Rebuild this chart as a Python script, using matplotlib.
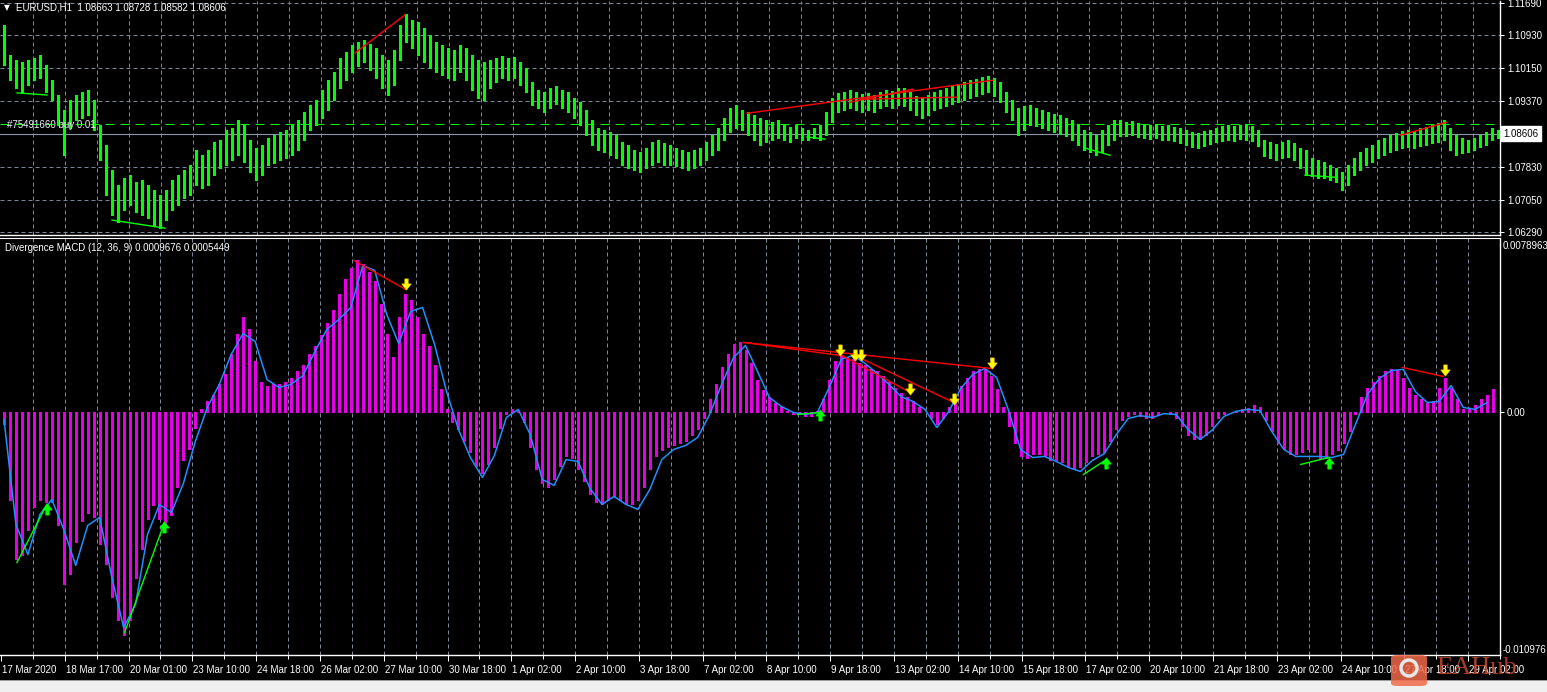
import numpy as np
import matplotlib
matplotlib.use('Agg')
import matplotlib.pyplot as plt
from matplotlib.path import Path
from matplotlib.patches import Rectangle, FancyBboxPatch, Ellipse
import matplotlib.transforms as mtrans

W, H = 1547, 692
plt.rcParams['font.family'] = ['Liberation Sans', 'DejaVu Sans']

# ---------------- data ----------------
symbol_title = "EURUSD,H1  1.08663 1.08728 1.08582 1.08606"
macd_title = "Divergence MACD (12, 36, 9) 0.0009676 0.0005449"
order_label = "#75491660 buy 0.01"

# one bar every 3 hours (bar index -> hour = 3*i + 1)
bar_high = [
    1.1117, 1.1046, 1.1034, 1.1030, 1.1034, 1.1039, 1.1046, 1.1023, 1.0987, 1.0952,
    1.0916, 1.0940, 1.0952, 1.0959, 1.0964, 1.0940, 1.0881, 1.0834, 1.0775, 1.0739,
    1.0756, 1.0763, 1.0746, 1.0751, 1.0739, 1.0728, 1.0716, 1.0728, 1.0751, 1.0763,
    1.0775, 1.0787, 1.0822, 1.0810, 1.0822, 1.0841, 1.0846, 1.0869, 1.0874, 1.0893,
    1.0881, 1.0846, 1.0827, 1.0834, 1.0850, 1.0857, 1.0864, 1.0869, 1.0881, 1.0893,
    1.0912, 1.0928, 1.0940, 1.0964, 1.0987, 1.1006, 1.1039, 1.1053, 1.1070, 1.1077,
    1.1082, 1.1072, 1.1063, 1.1046, 1.1034, 1.1058, 1.1117, 1.1143, 1.1129, 1.1124,
    1.1110, 1.1093, 1.1077, 1.1070, 1.1063, 1.1058, 1.1070, 1.1063, 1.1046, 1.1034,
    1.1030, 1.1034, 1.1039, 1.1044, 1.1039, 1.1041, 1.1030, 1.1016, 1.0982, 1.0964,
    1.0959, 1.0968, 1.0973, 1.0964, 1.0959, 1.0945, 1.0935, 1.0916, 1.0893, 1.0874,
    1.0869, 1.0864, 1.0857, 1.0841, 1.0834, 1.0822, 1.0817, 1.0827, 1.0841, 1.0846,
    1.0839, 1.0834, 1.0827, 1.0822, 1.0817, 1.0822, 1.0827, 1.0841, 1.0857, 1.0874,
    1.0898, 1.0921, 1.0928, 1.0916, 1.0912, 1.0905, 1.0898, 1.0893, 1.0888, 1.0893,
    1.0881, 1.0876, 1.0881, 1.0874, 1.0869, 1.0874, 1.0881, 1.0912, 1.0945, 1.0957,
    1.0959, 1.0964, 1.0959, 1.0954, 1.0957, 1.0952, 1.0959, 1.0964, 1.0961, 1.0968,
    1.0968, 1.0959, 1.0949, 1.0945, 1.0952, 1.0959, 1.0964, 1.0968, 1.0975, 1.0978,
    1.0982, 1.0987, 1.0990, 1.0994, 1.0997, 1.0992, 1.0982, 1.0959, 1.0940, 1.0921,
    1.0926, 1.0928, 1.0921, 1.0916, 1.0912, 1.0907, 1.0905, 1.0898, 1.0893, 1.0883,
    1.0869, 1.0864, 1.0857, 1.0869, 1.0881, 1.0893, 1.0893, 1.0888, 1.0890, 1.0886,
    1.0883, 1.0881, 1.0883, 1.0879, 1.0881, 1.0876, 1.0874, 1.0869, 1.0864, 1.0862,
    1.0867, 1.0869, 1.0874, 1.0879, 1.0881, 1.0879, 1.0881, 1.0883, 1.0879, 1.0869,
    1.0846, 1.0841, 1.0836, 1.0841, 1.0846, 1.0839, 1.0827, 1.0822, 1.0803, 1.0798,
    1.0794, 1.0787, 1.0780, 1.0770, 1.0787, 1.0803, 1.0817, 1.0827, 1.0834, 1.0846,
    1.0850, 1.0857, 1.0862, 1.0867, 1.0869, 1.0867, 1.0874, 1.0876, 1.0881, 1.0886,
    1.0893, 1.0874, 1.0857, 1.0850, 1.0846, 1.0850, 1.0857, 1.0864, 1.0874, 1.0869,
]
bar_low = [
    1.1023, 1.0987, 1.0968, 1.0959, 1.0975, 1.0987, 1.0992, 1.0959, 1.0940, 1.0881,
    1.0810, 1.0874, 1.0893, 1.0898, 1.0905, 1.0869, 1.0798, 1.0716, 1.0669, 1.0652,
    1.0680, 1.0692, 1.0676, 1.0669, 1.0662, 1.0645, 1.0638, 1.0657, 1.0680, 1.0692,
    1.0709, 1.0716, 1.0739, 1.0732, 1.0739, 1.0763, 1.0780, 1.0787, 1.0798, 1.0810,
    1.0794, 1.0770, 1.0751, 1.0763, 1.0787, 1.0791, 1.0798, 1.0803, 1.0810, 1.0822,
    1.0846, 1.0869, 1.0881, 1.0898, 1.0916, 1.0940, 1.0968, 1.0987, 1.1006, 1.1020,
    1.1030, 1.1011, 1.0992, 1.0968, 1.0952, 1.0975, 1.1034, 1.1077, 1.1063, 1.1046,
    1.1030, 1.1016, 1.1006, 1.0999, 1.0992, 1.0987, 1.1006, 1.0987, 1.0964, 1.0945,
    1.0940, 1.0968, 1.0982, 1.0992, 1.0987, 1.0992, 1.0975, 1.0959, 1.0928, 1.0921,
    1.0912, 1.0921, 1.0931, 1.0921, 1.0912, 1.0898, 1.0881, 1.0857, 1.0834, 1.0822,
    1.0817, 1.0810, 1.0803, 1.0787, 1.0780, 1.0775, 1.0770, 1.0780, 1.0787, 1.0794,
    1.0787, 1.0787, 1.0784, 1.0780, 1.0775, 1.0780, 1.0787, 1.0798, 1.0810, 1.0822,
    1.0846, 1.0864, 1.0874, 1.0869, 1.0857, 1.0846, 1.0834, 1.0841, 1.0846, 1.0850,
    1.0846, 1.0841, 1.0850, 1.0846, 1.0846, 1.0850, 1.0846, 1.0857, 1.0888, 1.0912,
    1.0916, 1.0921, 1.0916, 1.0912, 1.0916, 1.0912, 1.0921, 1.0926, 1.0921, 1.0928,
    1.0926, 1.0916, 1.0905, 1.0898, 1.0905, 1.0916, 1.0921, 1.0926, 1.0931, 1.0935,
    1.0940, 1.0945, 1.0949, 1.0954, 1.0959, 1.0949, 1.0935, 1.0912, 1.0893, 1.0857,
    1.0869, 1.0881, 1.0879, 1.0874, 1.0869, 1.0864, 1.0860, 1.0855, 1.0846, 1.0834,
    1.0822, 1.0817, 1.0810, 1.0817, 1.0834, 1.0846, 1.0855, 1.0855, 1.0857, 1.0853,
    1.0850, 1.0848, 1.0850, 1.0846, 1.0846, 1.0843, 1.0839, 1.0834, 1.0829, 1.0827,
    1.0831, 1.0836, 1.0841, 1.0843, 1.0846, 1.0843, 1.0848, 1.0846, 1.0843, 1.0831,
    1.0808, 1.0803, 1.0798, 1.0803, 1.0805, 1.0798, 1.0780, 1.0763, 1.0761, 1.0756,
    1.0756, 1.0751, 1.0746, 1.0728, 1.0739, 1.0763, 1.0775, 1.0787, 1.0794, 1.0803,
    1.0810, 1.0817, 1.0822, 1.0827, 1.0829, 1.0827, 1.0831, 1.0834, 1.0839, 1.0841,
    1.0846, 1.0822, 1.0810, 1.0815, 1.0817, 1.0822, 1.0829, 1.0834, 1.0846, 1.0850,
]
macd_main = [
    -0.00054, -0.00394, -0.00665, -0.00643, -0.00530, -0.00430, -0.00394, -0.00403, -0.00403, -0.00507,
    -0.00778, -0.00733, -0.00588, -0.00493, -0.00457, -0.00475, -0.00597, -0.00688, -0.00837, -0.00937,
    -0.01009, -0.00937, -0.00747, -0.00620, -0.00484, -0.00421, -0.00484, -0.00520, -0.00462, -0.00339,
    -0.00213, -0.00167, -0.00068, 0.00014, 0.00050, 0.00077, 0.00127, 0.00172, 0.00263, 0.00353,
    0.00430, 0.00376, 0.00231, 0.00140, 0.00122, 0.00127, 0.00127, 0.00136, 0.00158, 0.00186,
    0.00213, 0.00263, 0.00303, 0.00349, 0.00403, 0.00466, 0.00534, 0.00602, 0.00656, 0.00688,
    0.00670, 0.00638, 0.00593, 0.00489, 0.00353, 0.00249, 0.00430, 0.00534, 0.00511, 0.00434,
    0.00353, 0.00299, 0.00217, 0.00104, 0.00014, -0.00045, -0.00077, -0.00131, -0.00181, -0.00240,
    -0.00276, -0.00235, -0.00154, -0.00068, -0.00005, 0.00014, 0.00005, -0.00045, -0.00158, -0.00258,
    -0.00321, -0.00339, -0.00299, -0.00240, -0.00199, -0.00204, -0.00258, -0.00312, -0.00367, -0.00407,
    -0.00416, -0.00394, -0.00376, -0.00394, -0.00412, -0.00416, -0.00394, -0.00339, -0.00258, -0.00199,
    -0.00172, -0.00158, -0.00145, -0.00140, -0.00127, -0.00104, -0.00077, -0.00023, 0.00059, 0.00127,
    0.00204, 0.00263, 0.00308, 0.00321, 0.00285, 0.00226, 0.00149, 0.00100, 0.00072, 0.00045,
    0.00027, 0.00005, -0.00009, -0.00009, -0.00014, -0.00014, 0.00005, 0.00059, 0.00149, 0.00231,
    0.00258, 0.00253, 0.00240, 0.00226, 0.00213, 0.00195, 0.00186, 0.00167, 0.00140, 0.00113,
    0.00086, 0.00068, 0.00054, 0.00027, 0.00000, -0.00027, -0.00054, -0.00023, 0.00027, 0.00068,
    0.00118, 0.00158, 0.00186, 0.00199, 0.00199, 0.00167, 0.00104, 0.00023, -0.00059, -0.00140,
    -0.00199, -0.00204, -0.00190, -0.00190, -0.00199, -0.00213, -0.00213, -0.00226, -0.00244, -0.00258,
    -0.00249, -0.00222, -0.00199, -0.00190, -0.00177, -0.00131, -0.00077, -0.00036, -0.00018, -0.00009,
    -0.00014, -0.00023, -0.00023, -0.00009, 0.00000, -0.00005, -0.00023, -0.00063, -0.00100, -0.00122,
    -0.00122, -0.00100, -0.00063, -0.00023, -0.00009, 0.00000, 0.00005, 0.00014, 0.00018, 0.00032,
    0.00023, -0.00032, -0.00086, -0.00136, -0.00167, -0.00186, -0.00190, -0.00181, -0.00167, -0.00181,
    -0.00204, -0.00204, -0.00190, -0.00172, -0.00136, -0.00086, -0.00009, 0.00068, 0.00113, 0.00140,
    0.00167, 0.00186, 0.00195, 0.00190, 0.00154, 0.00113, 0.00081, 0.00059, 0.00045, 0.00050,
    0.00113, 0.00158, 0.00113, 0.00059, 0.00014, 0.00014, 0.00036, 0.00059, 0.00081, 0.00104,
]
# signal line, one value every 6 hours (hour = 6*k + 1)
macd_signal = [
    -0.00032, -0.00507, -0.00643, -0.00462, -0.00394, -0.00530, -0.00692, -0.00511, -0.00475, -0.00742,
    -0.00973, -0.00869, -0.00552, -0.00416, -0.00453, -0.00321, -0.00131, 0.00023, 0.00127, 0.00263,
    0.00358, 0.00321, 0.00149, 0.00113, 0.00127, 0.00167, 0.00276, 0.00376, 0.00421, 0.00475,
    0.00665, 0.00643, 0.00444, 0.00312, 0.00457, 0.00475, 0.00308, 0.00095, -0.00077, -0.00204,
    -0.00294, -0.00195, -0.00023, 0.00014, -0.00100, -0.00303, -0.00330, -0.00213, -0.00222, -0.00344,
    -0.00416, -0.00380, -0.00416, -0.00439, -0.00348, -0.00213, -0.00167, -0.00149, -0.00113, -0.00009,
    0.00127, 0.00249, 0.00303, 0.00186, 0.00068, 0.00027, 0.00000, -0.00009, 0.00000, 0.00113,
    0.00240, 0.00258, 0.00222, 0.00177, 0.00127, 0.00072, 0.00050, 0.00014, -0.00068, 0.00005,
    0.00109, 0.00172, 0.00199, 0.00158, 0.00009, -0.00167, -0.00204, -0.00199, -0.00222, -0.00249,
    -0.00267, -0.00217, -0.00186, -0.00100, -0.00027, -0.00014, -0.00023, -0.00005, -0.00009, -0.00077,
    -0.00122, -0.00081, -0.00018, 0.00005, 0.00014, 0.00009, -0.00086, -0.00167, -0.00199, -0.00199,
    -0.00199, -0.00204, -0.00190, -0.00054, 0.00081, 0.00154, 0.00190, 0.00195, 0.00095, 0.00045,
    0.00050, 0.00122, 0.00023, 0.00014, 0.00045,
]
time_labels = [
    "17 Mar 2020", "18 Mar 17:00", "20 Mar 01:00", "23 Mar 10:00", "24 Mar 18:00",
    "26 Mar 02:00", "27 Mar 10:00", "30 Mar 18:00", "1 Apr 02:00", "2 Apr 10:00",
    "3 Apr 18:00", "7 Apr 02:00", "8 Apr 10:00", "9 Apr 18:00", "13 Apr 02:00",
    "14 Apr 10:00", "15 Apr 18:00", "17 Apr 02:00", "20 Apr 10:00", "21 Apr 18:00",
    "23 Apr 02:00", "24 Apr 10:00", "27 Apr 18:00", "29 Apr 02:00",
]
price_ticks = [1.1169, 1.1093, 1.1015, 1.0937, 1.0783, 1.0705, 1.0629]
price_grid = [1.1169, 1.1093, 1.1015, 1.0937, 1.0859, 1.0783, 1.0705, 1.0629]
bid_price = 1.08606
order_price = 1.08837
macd_max, macd_min = 0.0078963, -0.010976

# divergence lines: (hour0, value0, hour1, value1)
price_bull_div = [(7.5, 1.0957, 22.5, 1.0952), (55, 1.0657, 81.5, 1.0638),
                  (402.5, 1.0853, 411.5, 1.0848), (541.5, 1.0827, 554, 1.0810),
                  (651.5, 1.0763, 666.5, 1.0758)]
price_bear_div = [(176.5, 1.1051, 201.5, 1.1141), (372.5, 1.0909, 495.5, 1.0987),
                  (424, 1.0935, 455.5, 1.0966), (429, 1.0942, 477.5, 1.0947),
                  (699, 1.0857, 722.5, 1.0888)]
macd_bull_div = [(7.5, -0.00679, 22.5, -0.00416), (61.5, -0.00996, 81.5, -0.00498),
                 (399, -0.00009, 410.5, 0.0), (542.5, -0.00281, 554, -0.00213),
                 (651.5, -0.00235, 665.5, -0.00204)]
macd_bear_div = [(176.5, 0.00688, 202.5, 0.00557), (372, 0.00317, 420.5, 0.00258),
                 (372, 0.00317, 496.5, 0.00199), (420.5, 0.00262, 455.5, 0.00091),
                 (429, 0.00253, 477.5, 0.00045), (702.5, 0.00204, 723, 0.00163)]
sell_arrow_h = [202.5, 420.5, 428, 431, 455.5, 477.5, 496.5, 724]
sell_arrow_v = [0.00580, 0.00285, 0.00262, 0.00262, 0.00104, 0.00063, 0.00222, 0.00190]
buy_arrow_h = [22.5, 81.5, 410.5, 554, 665.5]
buy_arrow_v = [-0.00435, -0.00517, -0.00010, -0.00227, -0.00227]

# ---------------- figure ----------------
fig = plt.figure(figsize=(W / 100, H / 100), dpi=100, facecolor='black')

def fx(px):
    return px / W

def fy(py):
    return 1 - py / H

ax1 = fig.add_axes([0, fy(235), fx(1500), 234 / H])
ax2 = fig.add_axes([0, fy(655), fx(1500), (655 - 238) / H])

GRID = '#778899'
LIME = '#00ff00'
MAG = '#e600e6'
TXT = 7

for ax in (ax1, ax2):
    ax.set_facecolor('black')
    ax.set_xlim(-1, 749)
    ax.spines['left'].set_visible(False)
    ax.spines['top'].set_visible(False)
    ax.spines['right'].set_color('white')
    ax.spines['bottom'].set_color('white')
    ax.spines['right'].set_linewidth(1.0)
    ax.spines['bottom'].set_linewidth(1.0)
    vg = np.arange(1, 47) * 16 - 0.5
    ax.vlines(vg, 0, 1, transform=ax.get_xaxis_transform(), colors=GRID,
              linewidth=0.72, linestyles=(0, (4, 3)), zorder=0)
ax2.spines['top'].set_visible(True)
ax2.spines['top'].set_color('white')

# ---- top panel: price ----
ax1.set_ylim(1.06219, 1.11737)
for p in price_grid:
    ax1.axhline(p, color=GRID, linewidth=0.72, linestyle=(0, (4, 3)), zorder=0)
hours_bar = np.arange(len(bar_high)) * 3 + 1
ax1.vlines(hours_bar, bar_low, bar_high, colors=LIME, linewidth=2.16,
           antialiased=False, zorder=2)
ax1.axhline(bid_price, color='#8a96a8', linewidth=0.8, zorder=1)
ax1.axhline(order_price, color=LIME, linewidth=0.72, linestyle=(0, (9, 6)), zorder=1)
for h0, v0, h1, v1 in price_bull_div:
    ax1.plot([h0, h1], [v0, v1], color=LIME, linewidth=1.0, zorder=3)
for h0, v0, h1, v1 in price_bear_div:
    ax1.plot([h0, h1], [v0, v1], color='#ff0000', linewidth=1.0, zorder=3)

ax1.yaxis.tick_right()
ax1.set_yticks(price_ticks)
ax1.set_yticklabels([f"{p:.5f}" for p in price_ticks])
ax1.tick_params(axis='y', colors='white', labelcolor='white', labelsize=TXT,
                length=3, width=0.72, pad=2, direction='out')
ax1.set_xticks([])
btr = mtrans.blended_transform_factory(ax1.transAxes, ax1.transData)
ax1.text(1.0 + 3 / 1500, bid_price, f"{bid_price:.5f}", transform=btr, color='black',
         fontsize=TXT, va='center', ha='left', clip_on=False,
         bbox=dict(boxstyle='square,pad=0.25', fc='white', ec='white'))
ax1.text(7 / 1500, order_price - 0.00025, order_label, transform=btr,
         color='#f0f0ff', fontsize=TXT, va='center', ha='left')

# ---- bottom panel: MACD ----
ax2.set_ylim(macd_min, macd_max)
ax2.vlines(hours_bar, 0, macd_main, colors=MAG, linewidth=2.16,
           antialiased=False, zorder=2)
hours_sig = np.arange(len(macd_signal)) * 6 + 1
ax2.plot(hours_sig, macd_signal, color='#1e90ff', linewidth=1.1, zorder=3)
for h0, v0, h1, v1 in macd_bull_div:
    ax2.plot([h0, h1], [v0, v1], color=LIME, linewidth=1.0, zorder=4)
for h0, v0, h1, v1 in macd_bear_div:
    ax2.plot([h0, h1], [v0, v1], color='#ff0000', linewidth=1.0, zorder=4)

dv = [(-0.3, 1), (0.3, 1), (0.3, 0.1), (0.85, 0.1), (0, -1), (-0.85, 0.1), (-0.3, 0.1), (-0.3, 1)]
down_arrow = Path(dv, closed=True)
up_arrow = Path([(x, -y) for x, y in dv], closed=True)
ax2.plot(sell_arrow_h, sell_arrow_v, ls='none', marker=down_arrow, ms=8,
         color='#ffff00', mec='#ffcc00', mew=0.5, zorder=5)
ax2.plot(buy_arrow_h, buy_arrow_v, ls='none', marker=up_arrow, ms=8,
         color=LIME, mec=LIME, mew=0.5, zorder=5)

ax2.yaxis.tick_right()
ax2.set_yticks([0.0])
ax2.set_yticklabels(["0.00"])
ax2.tick_params(axis='y', colors='white', labelcolor='white', labelsize=TXT,
                length=3, width=0.72, pad=2, direction='out')
ax2.text(1.0 + 3 / 1500, 1.0 - 3 / 417, f"{macd_max:.7f}", transform=ax2.transAxes,
         color='white', fontsize=TXT, va='top', ha='left', clip_on=False)
ax2.text(1.0 + 3 / 1500, 0.0, f"{macd_min:.6f}", transform=ax2.transAxes,
         color='white', fontsize=TXT, va='bottom', ha='left', clip_on=False)

major = np.arange(len(time_labels)) * 32 - 0.5
ax2.set_xticks(major)
ax2.set_xticklabels(time_labels)
ax2.set_xticks(major + 16, minor=True)
ax2.tick_params(axis='x', which='major', colors='white', labelcolor='white',
                labelsize=TXT, length=4, width=0.72, pad=3, direction='out')
ax2.tick_params(axis='x', which='minor', colors='white', length=3, width=0.72,
                direction='out')
off = mtrans.ScaledTranslation(1 / 100, 0, fig.dpi_scale_trans)
for lbl in ax2.get_xticklabels():
    lbl.set_horizontalalignment('left')
    lbl.set_transform(lbl.get_transform() + off)

# ---- titles ----
fig.text(fx(4), fy(8), "\u25bc", color='white', fontsize=5.5, va='center', ha='left',
         family=['DejaVu Sans'])
fig.text(fx(16), fy(8), symbol_title, color='white', fontsize=TXT, va='center', ha='left')
fig.text(fx(5), fy(248), macd_title, color='white', fontsize=TXT, va='center', ha='left')

# ---- bottom window strip ----
fig.add_artist(Rectangle((0, 0), 1, 11 / H, transform=fig.transFigure,
                         fc='#f0f0f0', ec='none', zorder=10))
fig.add_artist(Rectangle((0, 11 / H), 1, 1.2 / H, transform=fig.transFigure,
                         fc='#a0a0a0', ec='none', zorder=10))

# ---- watermark ----
fig.add_artist(FancyBboxPatch((fx(1391), fy(686)), 36 / W, 31 / H,
                              boxstyle='round,pad=0,rounding_size=0.004',
                              transform=fig.transFigure, fc='#f06a4a', ec='none',
                              alpha=0.85, zorder=11))
fig.add_artist(Ellipse((fx(1409), fy(668)), 16 / W, 16 / H, transform=fig.transFigure,
                       fill=False, ec='#e8e8e8', lw=2.5, zorder=12))
fig.text(fx(1436), fy(668), "EAHub", color='#c8482e', alpha=0.85, fontsize=19,
         family=['Liberation Serif', 'DejaVu Serif'], va='center', ha='left', zorder=12)

fig.savefig('out.png', dpi=100, facecolor='black')
